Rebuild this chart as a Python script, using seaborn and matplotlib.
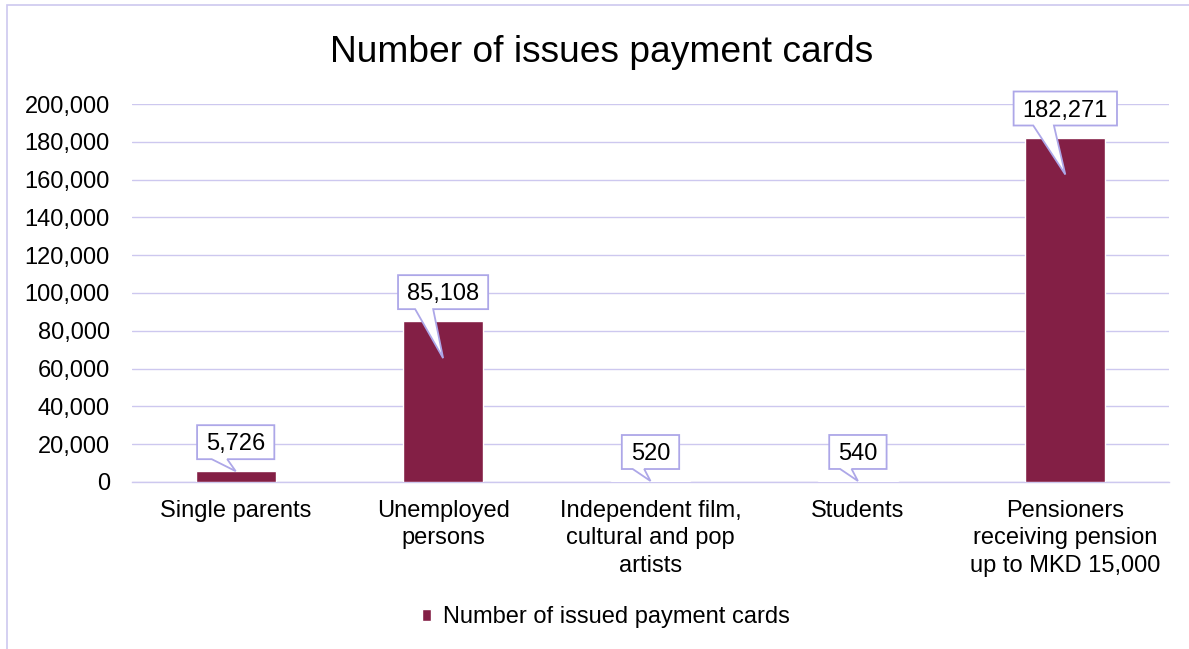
import matplotlib
matplotlib.use("Agg")
import matplotlib.pyplot as plt
from matplotlib.patches import Polygon, Rectangle
from matplotlib.transforms import IdentityTransform
from matplotlib.ticker import FuncFormatter, FixedLocator
import seaborn as sns
import pandas as pd

categories = [
    "Single parents",
    "Unemployed\npersons",
    "Independent film,\ncultural and pop\nartists",
    "Students",
    "Pensioners\nreceiving pension\nup to MKD 15,000",
]
cards_issued = [5726, 85108, 520, 540, 182271]
series_name = "Number of issued payment cards"
title = "Number of issues payment cards"
y_ticks = [0, 20000, 40000, 60000, 80000, 100000, 120000, 140000, 160000, 180000, 200000]

BAR = "#831F45"
GRID = "#CDC8EF"
CALLOUT_EDGE = "#ADA7E8"
TEXT = "#000000"

sns.set_theme(style="white")
plt.rcParams["font.family"] = ["Liberation Sans", "DejaVu Sans"]

W, H, DPI = 1189, 649, 100
fig = plt.figure(figsize=(W / DPI, H / DPI), dpi=DPI)
ax = fig.add_axes([132 / W, 1 - 482 / H, (1169 - 132) / W, (482 - 104) / H])

df = pd.DataFrame({"category": categories, "cards": cards_issued})
sns.barplot(data=df, x="category", y="cards", color=BAR, saturation=1,
            width=0.385, ax=ax, label=series_name, zorder=3)
if ax.get_legend() is not None:
    ax.get_legend().remove()

ax.set_xlim(-0.5, len(categories) - 0.5)
ax.set_ylim(0, 200000)
ax.set_xlabel("")
ax.set_ylabel("")
ax.yaxis.set_major_locator(FixedLocator(y_ticks))
ax.yaxis.set_major_formatter(FuncFormatter(lambda v, p: f"{int(v):,}"))
ax.grid(axis="y", color=GRID, linewidth=1.0, zorder=0)
ax.grid(axis="x", visible=False)
for side in ["left", "right", "top"]:
    ax.spines[side].set_visible(False)
ax.spines["bottom"].set_color(GRID)
ax.spines["bottom"].set_linewidth(1.0)

ax.tick_params(axis="y", length=0, pad=16, labelsize=17, labelcolor=TEXT)
ax.tick_params(axis="x", which="major", length=0, pad=13, labelsize=17, labelcolor=TEXT)
ax.set_xticks([i - 0.5 for i in range(len(categories) + 1)], minor=True)
ax.tick_params(axis="x", which="minor", length=5, width=1.0, color=GRID, direction="out")
for lbl in ax.get_xticklabels():
    lbl.set_linespacing(1.32)
    lbl.set_horizontalalignment("center")

fig.text(602 / W, 1 - 52 / H, title, ha="center", va="center", fontsize=26.7, color=TEXT)

handles, names = ax.get_legend_handles_labels()
leg = fig.legend(handles[:1], names[:1], loc="center", bbox_to_anchor=(606 / W, 1 - 617 / H),
                 frameon=False, fontsize=17, handlelength=0.4, handleheight=0.4,
                 handletextpad=0.5)
for t in leg.get_texts():
    t.set_color(TEXT)

# chart area frame
fig.patches.append(Rectangle((7 / W, -0.1), 1.2, 1 - 5 / H + 0.1, transform=fig.transFigure,
                             fill=False, edgecolor=GRID, linewidth=1.2))

# value callouts: label box with a wedge pointing at the bar
px_per_val = (482 - 104) / 200000
labels = []
for i, v in enumerate(cards_issued):
    t = ax.text(i, v + 27 / px_per_val, f"{v:,}", ha="center", va="center",
                fontsize=17, color=TEXT, zorder=7, clip_on=False)
    labels.append(t)

fig.canvas.draw()
renderer = fig.canvas.get_renderer()
for i, (v, t) in enumerate(zip(cards_issued, labels)):
    bb = t.get_window_extent(renderer)
    cx = (bb.x0 + bb.x1) / 2
    hw = bb.width / 2 + 9
    x0, x1 = cx - hw, cx + hw
    cy = (bb.y0 + bb.y1) / 2 + 2
    y0, y1 = cy - 17, cy + 17
    tip_x, top_y = ax.transData.transform((i, v))
    bar_px = v * px_per_val
    tip_y = top_y - (37 if bar_px > 60 else 0)
    b_left = cx - 0.62 * hw
    b_right = cx - 0.22 * hw
    pts = [(x0, y1), (x1, y1), (x1, y0), (b_right, y0), (tip_x, tip_y),
           (b_left, y0), (x0, y0)]
    poly = Polygon(pts, closed=True, transform=IdentityTransform(), facecolor="white",
                   edgecolor=CALLOUT_EDGE, linewidth=1.3, zorder=6, clip_on=False)
    ax.add_artist(poly)

fig.savefig("out.png", dpi=DPI)
